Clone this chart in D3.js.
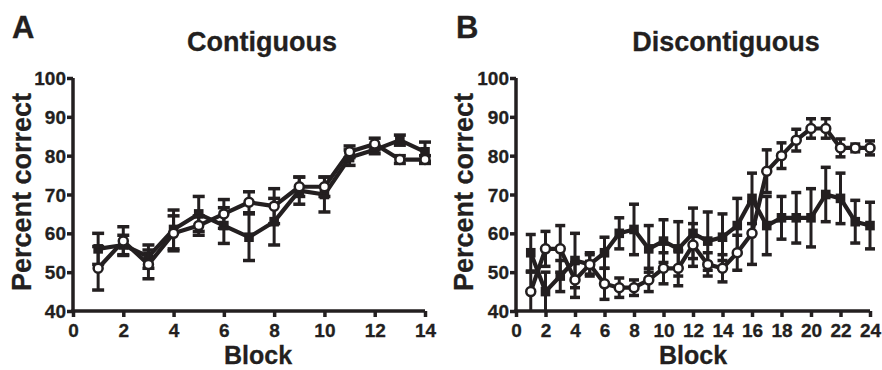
<!DOCTYPE html>
<html>
<head>
<meta charset="utf-8">
<script src="https://cdn.jsdelivr.net/npm/d3@7/dist/d3.min.js"></script>
<style>
  body { margin: 0; background: #fff; }
  svg text { font-family: "Liberation Sans", Arial, sans-serif; font-weight: bold; fill: #231f20; stroke: #231f20; stroke-width: 0.3px; }
</style>
</head>
<body>
<svg id="chart" width="882" height="370"></svg>
<script>
// Panel A: Contiguous (blocks 1..14)
const blocksA = d3.range(1, 15);
const squareA    = [56, 57, 54, 61, 65, 62, 59, 63, 71, 70, 79.5, 81.5, 84, 81];
const squareErrA = [4, 2.5, 3, 5, 4.5, 4.6, 6, 6, 3.5, 4.5, 2, 1, 1.3, 2.5];
const circleA    = [51, 58, 52, 60, 62, 65, 68, 67, 72, 72, 81, 83, 79, 79];
const circleErrA = [5.6, 3.7, 3.7, 4.5, 2.5, 3.7, 2.7, 4.5, 2.5, 2.5, 1.5, 1.5, 1, 1];

// Panel B: Discontiguous (blocks 1..24)
const blocksB = d3.range(1, 25);
const squareB    = [55, 45, 49, 53, 52, 55, 60, 61, 56, 58, 56, 60, 58, 59, 62, 69, 62, 64, 64, 64, 70, 69, 63, 62];
const squareErrB = [4.7, 5, 4, 7, 3, 4, 4, 6.5, 6, 5.5, 7, 6.5, 7.5, 6, 7, 6.5, 7.5, 5.5, 6.5, 7.5, 7, 6.5, 5.5, 6];
const circleB    = [45, 56, 56, 48, 52, 47, 46, 46, 48, 51, 51, 57, 52, 51, 55, 60, 76, 80, 84, 87, 87, 82, 82, 82];
const circleErrB = [5, 4.5, 6, 4.5, 2.5, 4, 2.5, 2, 3, 4, 4.5, 5.5, 3, 3.5, 4.5, 8, 5.5, 3.3, 2.8, 2.5, 2.5, 2.3, 1, 1.8];

const yTicks = [40, 50, 60, 70, 80, 90, 100];
const ink = '#231f20';

const svg = d3.select('#chart');

function drawPanel(p) {
    const x = d3.scaleLinear().domain([0, p.xMax]).range(p.xRange);
    const y = d3.scaleLinear().domain([40, 100]).range([311, 78]);
    const g = svg.append('g');

    // error bars + lines + markers for one series
    function series(vals, errs, kind) {
        const pts = p.blocks.map((b, i) => ({ b: b, v: vals[i], e: errs[i] }));
        const eb = g.append('g');
        pts.forEach(d => {
            const cx = x(d.b);
            const lo = Math.max(40, d.v - d.e);
            eb.append('line').attr('x1', cx).attr('x2', cx)
                .attr('y1', y(d.v + d.e)).attr('y2', y(lo))
                .attr('stroke', ink).attr('stroke-width', 3);
            eb.append('line').attr('x1', cx - p.cap).attr('x2', cx + p.cap)
                .attr('y1', y(d.v + d.e)).attr('y2', y(d.v + d.e))
                .attr('stroke', ink).attr('stroke-width', 3.5);
            if (d.v - d.e > 40) {
                eb.append('line').attr('x1', cx - p.cap).attr('x2', cx + p.cap)
                    .attr('y1', y(lo)).attr('y2', y(lo))
                    .attr('stroke', ink).attr('stroke-width', 3.5);
            }
        });
        g.append('path').datum(pts)
            .attr('d', d3.line().x(d => x(d.b)).y(d => y(d.v)))
            .attr('fill', 'none').attr('stroke', ink).attr('stroke-width', 4.2)
            .attr('stroke-linejoin', 'round');
        const m = g.append('g');
        if (kind === 'square') {
            m.selectAll('rect').data(pts).join('rect')
                .attr('x', d => x(d.b) - 4.8).attr('y', d => y(d.v) - 4.8)
                .attr('width', 9.6).attr('height', 9.6).attr('fill', ink);
        } else {
            m.selectAll('circle').data(pts).join('circle')
                .attr('cx', d => x(d.b)).attr('cy', d => y(d.v)).attr('r', 4.5)
                .attr('fill', '#fff').attr('stroke', ink).attr('stroke-width', 2.5);
        }
    }
    series(p.sq, p.sqErr, 'square');
    series(p.ci, p.ciErr, 'circle');

    // axes
    const xAxis = g.append('g').attr('transform', 'translate(0,311)')
        .call(d3.axisBottom(x).tickValues(p.xTicks).tickSize(6).tickSizeOuter(0));
    const yAxis = g.append('g').attr('transform', `translate(${p.xRange[0]},0)`)
        .call(d3.axisLeft(y).tickValues(yTicks).tickSize(6).tickSizeOuter(0));
    [xAxis, yAxis].forEach(a => {
        a.select('.domain').attr('stroke', ink).attr('stroke-width', 3.5);
        a.selectAll('.tick line').attr('stroke', ink).attr('stroke-width', 3.5);
        a.selectAll('.tick text').style('font-size', '19px').attr('fill', ink);
    });
    xAxis.selectAll('.tick text').attr('dy', null).attr('y', 26);
    yAxis.selectAll('.tick text').attr('x', -7).attr('dy', '0.35em');
    xAxis.select('.domain').attr('d', `M${p.xRange[0] - 1.7},0H${p.xRange[1]}`);
    yAxis.select('.domain').attr('d', `M0,${311 + 1.7}V78`);

    // labels
    svg.append('text').attr('x', p.letterX).attr('y', 38)
        .style('font-size', '31px').text(p.letter);
    svg.append('text').attr('x', p.titleX).attr('y', 51).attr('text-anchor', 'middle')
        .style('font-size', '27px').text(p.title);
    svg.append('text').attr('x', p.blockX).attr('y', 364)
        .attr('text-anchor', 'middle').style('font-size', '25px').text('Block');
    svg.append('text').attr('transform', `translate(${p.yLabelX},192) rotate(-90)`)
        .attr('text-anchor', 'middle').style('font-size', '27px').text('Percent correct');
}

drawPanel({
    blocks: blocksA, sq: squareA, sqErr: squareErrA, ci: circleA, ciErr: circleErrA,
    xMax: 14, xRange: [73, 425], xTicks: d3.range(0, 15, 2), cap: 6,
    letter: 'A', letterX: 12, title: 'Contiguous', titleX: 262, blockX: 258, yLabelX: 31
});
drawPanel({
    blocks: blocksB, sq: squareB, sqErr: squareErrB, ci: circleB, ciErr: circleErrB,
    xMax: 24, xRange: [516, 870], xTicks: d3.range(0, 25, 2), cap: 5,
    letter: 'B', letterX: 456, title: 'Discontiguous', titleX: 726, blockX: 693, yLabelX: 473
});
</script>
</body>
</html>
